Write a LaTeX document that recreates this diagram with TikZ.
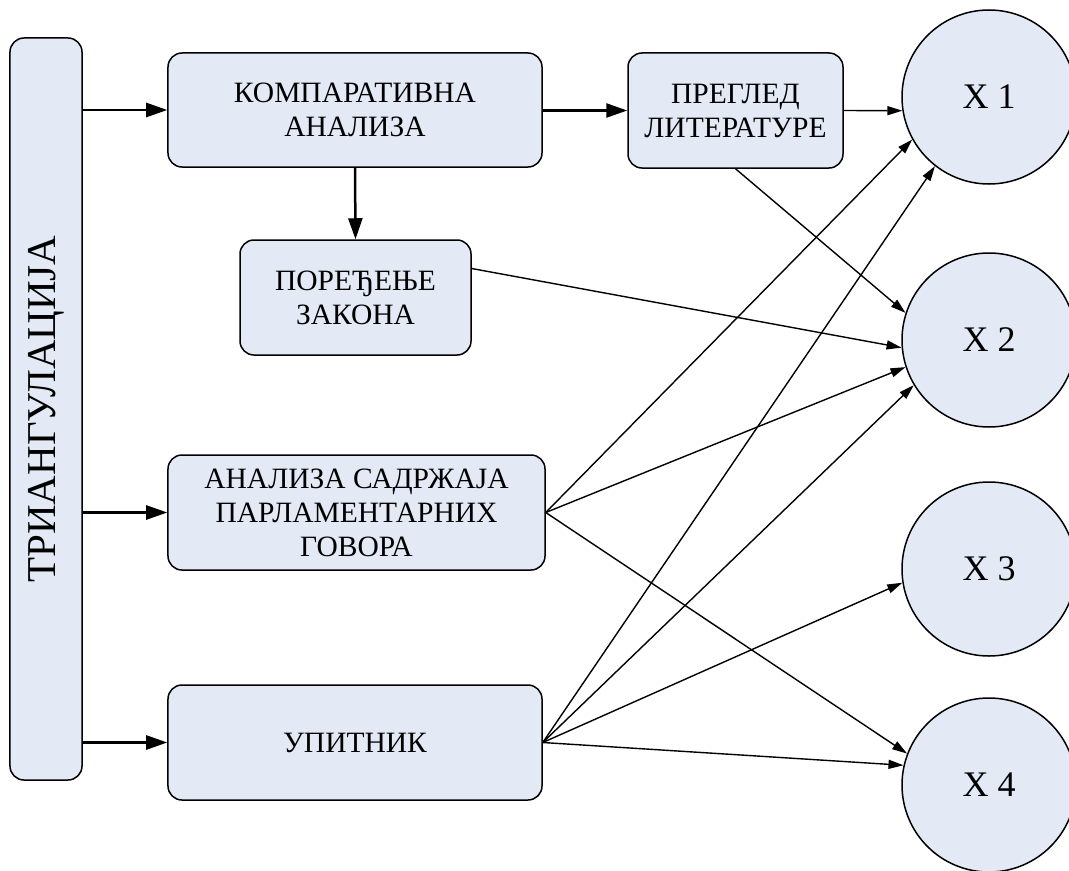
\documentclass[tikz,border=0pt]{standalone}
\usepackage{fontspec}
\setmainfont{Liberation Serif}
\usetikzlibrary{arrows.meta}
\definecolor{boxfill}{RGB}{227,234,245}
\begin{document}
\begin{tikzpicture}[x=1bp,y=-1bp,
  box/.style={draw=black, line width=1.5bp, fill=boxfill, rounded corners=14bp,
    inner sep=0pt, align=center, font=\fontsize{29.5bp}{34bp}\selectfont},
  var/.style={circle, draw=black, line width=1.5bp, fill=boxfill, inner sep=0pt,
    minimum size=174bp, font=\fontsize{36bp}{40bp}\selectfont},
  bigarrow/.style={line width=2.5bp, -{Triangle[length=21bp,width=14bp]}},
  thinarrow/.style={line width=1.4bp, -{Triangle[length=15bp,width=9bp]}}
]
\useasboundingbox (0,0) rectangle (1069,871);

\node[box, minimum width=72bp, minimum height=742bp] (T) at (46,409) {};
\node[rotate=90, inner sep=0pt, font=\fontsize{41bp}{44bp}\selectfont] (TL) at (T.center) {ТРИАНГУЛАЦИЈА};
\node[box, minimum width=374bp, minimum height=114bp] (K) at (355,110) {КОМПАРАТИВНА\\АНАЛИЗА};
\node[box, minimum width=215bp, minimum height=115bp] (P) at (735.5,110.5) {ПРЕГЛЕД\\ЛИТЕРАТУРЕ};
\node[box, minimum width=231bp, minimum height=115bp] (Z) at (355.5,297.5) {ПОРЕЂЕЊЕ\\ЗАКОНА};
\node[box, minimum width=377bp, minimum height=115bp] (A) at (356.5,512.5) {АНАЛИЗА САДРЖАЈА\\ПАРЛАМЕНТАРНИХ\\ГОВОРА};
\node[box, minimum width=374bp, minimum height=115bp] (U) at (355,742.5) {УПИТНИК};

\node[var] (X1) at (989,97) {X 1};
\node[var] (X2) at (989,340) {X 2};
\node[var] (X3) at (989,569) {X 3};
\node[var] (X4) at (989,785) {X 4};

\draw[bigarrow] (T.east |- K.west) -- (K.west);
\draw[bigarrow] (T.east |- A.west) -- (A.west);
\draw[bigarrow] (T.east |- U.west) -- (U.west);
\draw[bigarrow] (K.east |- P.west) -- (P.west);
\draw[bigarrow] (K.south) -- (Z.north);

\draw[thinarrow] (P.east) -- (X1.189);
\draw[thinarrow] (P.south) -- (X2.162);
\draw[thinarrow] (Z.14) -- (X2.185);
\draw[thinarrow] (A.east) -- (X1.209);
\draw[thinarrow] (A.east) -- (X2.198);
\draw[thinarrow] (A.east) -- (X4.159);
\draw[thinarrow] (U.east) -- (X1.232);
\draw[thinarrow] (U.east) -- (X2.211);
\draw[thinarrow] (U.east) -- (X3.189);
\draw[thinarrow] (U.east) -- (X4.167);
\end{tikzpicture}
\end{document}
